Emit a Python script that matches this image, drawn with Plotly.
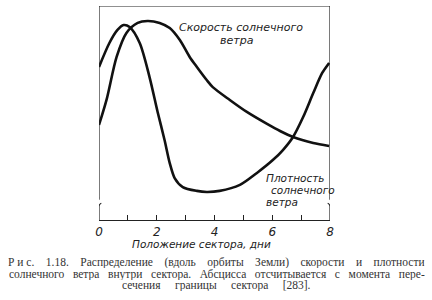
import plotly.graph_objects as go

# Data (relative units, x in days)
speed_x = [0.0, 0.26, 0.61, 0.95, 1.34, 1.68, 2.10, 2.45, 2.80, 3.14, 3.39, 3.73, 3.94,
           4.53, 5.12, 5.82, 6.27, 6.72, 7.42, 7.97]
speed_y = [44.4, 56.1, 76.2, 87.4, 92.1, 93.0, 92.1, 89.7, 84.1, 76.2, 71.5, 65.4, 62.1,
           56.1, 50.5, 44.9, 41.6, 38.8, 36.0, 34.6]

dens_x = [0.0, 0.36, 0.64, 0.85, 1.06, 1.41, 1.75, 2.03, 2.27, 2.45, 2.62, 2.90, 3.39,
          3.73, 4.18, 4.88, 5.47, 6.02, 6.37, 6.72, 7.07, 7.42, 7.73, 7.97]
dens_y = [71.5, 82.7, 88.8, 91.1, 90.2, 82.7, 66.8, 50.5, 37.4, 26.6, 19.6, 15.4, 13.6,
          13.1, 13.6, 16.4, 22.0, 28.0, 32.7, 38.8, 48.1, 59.3, 68.7, 73.4]

tick_vals = [0, 1, 2, 3, 4, 5, 6, 7, 8]
tick_text = ["<i>0</i>", "", "<i>2</i>", "", "<i>4</i>", "", "<i>6</i>", "", "<i>8</i>"]

x_title = "Положение сектора, дни"
speed_label = ["Скорость солнечного", "ветра"]
dens_label = ["Плотность", "солнечного", "ветра"]
caption_lines = [
    ["Р и с.", "1.18.", "Распределение", "(вдоль", "орбиты", "Земли)", "скорости", "и", "плотности"],
    ["солнечного", "ветра", "внутри", "сектора.", "Абсцисса", "отсчитывается", "с", "момента", "пере-"],
    ["сечения", "границы", "сектора", "[283]."],
]

fig = go.Figure()
for xs, ys in [(speed_x, speed_y), (dens_x, dens_y)]:
    fig.add_trace(go.Scatter(x=xs, y=ys, mode="lines",
                             line=dict(color="#111", width=2.6, shape="spline", smoothing=0.8),
                             showlegend=False, hoverinfo="skip", cliponaxis=False))

ital = dict(family="DejaVu Sans", size=10.5, color="#222")

shapes = [
    dict(type="line", xref="x", yref="y", x0=0, x1=8, y0=100, y1=100, line=dict(color="#222", width=1.2)),
    dict(type="line", xref="x", yref="y", x0=0, x1=0, y0=100, y1=10.3, line=dict(color="#222", width=1.2)),
    dict(type="line", xref="x", yref="y", x0=8, x1=8, y0=100, y1=10.3, line=dict(color="#222", width=1.2)),
    dict(type="line", xref="x", yref="y", x0=0, x1=0, y0=6.5, y1=0, line=dict(color="#222", width=1.2)),
    dict(type="line", xref="x", yref="y", x0=8, x1=8, y0=6.5, y1=0, line=dict(color="#222", width=1.2)),
    dict(type="path", xref="x", yref="y", path="M 0,10.3 Q 0.02,9.3 -0.08,9.0",
         line=dict(color="#222", width=1.1)),
    dict(type="path", xref="x", yref="y", path="M 0,6.5 Q 0.02,7.5 0.08,7.8",
         line=dict(color="#222", width=1.1)),
    dict(type="path", xref="x", yref="y", path="M 8,10.3 Q 7.98,9.3 8.08,9.0",
         line=dict(color="#222", width=1.1)),
    dict(type="path", xref="x", yref="y", path="M 8,6.5 Q 7.98,7.5 7.92,7.8",
         line=dict(color="#222", width=1.1)),
]

ann = []
ann.append(dict(x=4.93, y=89.8, xref="x", yref="y", text="<i>" + speed_label[0] + "</i>", showarrow=False,
                font=dict(family="DejaVu Sans", size=11, color="#222"), xanchor="center", yanchor="middle"))
ann.append(dict(x=4.78, y=84.1, xref="x", yref="y", text="<i>" + speed_label[1] + "</i>", showarrow=False,
                font=dict(family="DejaVu Sans", size=11, color="#222"), xanchor="center", yanchor="middle"))
ann.append(dict(x=7.88, y=19.7, xref="x", yref="y", text="<i>" + dens_label[0] + "</i>", showarrow=False,
                font=ital, xanchor="right", yanchor="middle"))
ann.append(dict(x=7.05, y=14.0, xref="x", yref="y", text="<i>" + dens_label[1] + "</i>", showarrow=False,
                font=ital, xanchor="center", yanchor="middle"))
ann.append(dict(x=6.33, y=8.6, xref="x", yref="y", text="<i>" + dens_label[2] + "</i>", showarrow=False,
                font=ital, xanchor="center", yanchor="middle"))

fig.update_layout(
    width=432, height=300,
    margin=dict(l=99, r=102, t=6, b=80),
    paper_bgcolor="white", plot_bgcolor="white",
    xaxis=dict(range=[0, 8], tickvals=tick_vals, ticktext=tick_text, ticks="inside", ticklen=5,
               tickcolor="#222", tickwidth=1.1, showline=True, linecolor="#222", linewidth=1.2,
               showgrid=False, zeroline=False, fixedrange=True,
               tickfont=dict(family="DejaVu Sans", size=12, color="#222")),
    yaxis=dict(range=[0, 100], visible=False, showgrid=False, zeroline=False),
    shapes=shapes,
)

def px_to_paper(px, py):
    return (px - 99) / (432 - 99 - 102), (300 - 80 - py) / (300 - 6 - 80)

xp, yp = px_to_paper(201, 244)
ann.append(dict(x=xp, y=yp, xref="paper", yref="paper", text="<i>" + x_title + "</i>", showarrow=False,
                font=dict(family="DejaVu Sans", size=10.5, color="#222"),
                xanchor="center", yanchor="middle"))

NB = "\u00a0"
def justify(words, gaps):
    out = words[0]
    for w, g in zip(words[1:], gaps):
        out += " " + NB * g + w
    return out

cap_font = dict(family="Liberation Serif", size=11.5, color="#333")
line_texts = [
    justify(caption_lines[0], [3, 3, 3, 3, 3, 3, 3, 3]),
    justify(caption_lines[1], [2, 2, 2, 2, 2, 2, 2, 2]),
    justify(caption_lines[2], [4, 4, 4]),
]
cap_pos = [(6, 262.5, "left"), (7, 274, "left"), (216, 285.5, "center")]
for t, (px, py, anc) in zip(line_texts, cap_pos):
    xp, yp = px_to_paper(px, py)
    ann.append(dict(x=xp, y=yp, xref="paper", yref="paper", text=t, showarrow=False,
                    font=cap_font, xanchor=anc, yanchor="middle", height=11, valign="middle"))

fig.update_layout(annotations=ann)
fig.write_html("out.html")
